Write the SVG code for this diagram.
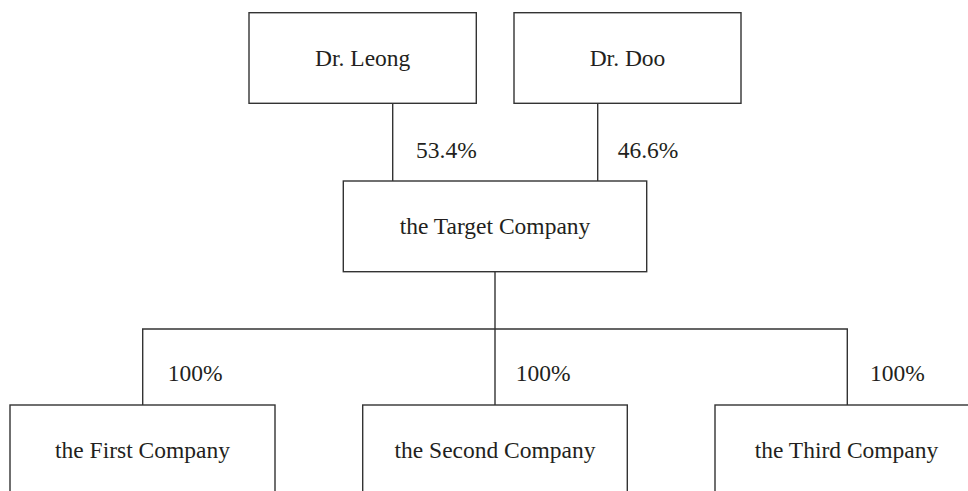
<svg xmlns="http://www.w3.org/2000/svg" width="968" height="491" viewBox="0 0 968 491">
<style>
.box{fill:#fff;stroke:#333;stroke-width:1.4}
.ln{fill:none;stroke:#333;stroke-width:1.4}
text{font-family:"Liberation Serif","Times New Roman",serif;font-size:23.5px;fill:#231f20}
.c{text-anchor:middle}
</style>
<rect width="968" height="491" fill="#fff"/>
<g id="connectors">
<line class="ln" x1="392.7" y1="103.3" x2="392.7" y2="181"/>
<line class="ln" x1="597.7" y1="103.3" x2="597.7" y2="181"/>
<line class="ln" x1="495" y1="271.7" x2="495" y2="329"/>
<polyline class="ln" points="142.7,405 142.7,329 847.3,329 847.3,405"/>
<line class="ln" x1="495" y1="329" x2="495" y2="405"/>
<text x="416" y="158">53.4%</text>
<text x="617.7" y="158">46.6%</text>
<text x="167.7" y="381">100%</text>
<text x="515.7" y="381">100%</text>
<text x="870" y="381">100%</text>
</g>
<g id="dr-leong">
<rect class="box" x="249" y="12.7" width="227.3" height="90.6"/>
<text class="c" x="362.7" y="65.5">Dr. Leong</text>
</g>
<g id="dr-doo">
<rect class="box" x="514" y="12.7" width="227" height="90.6"/>
<text class="c" x="627.5" y="65.5">Dr. Doo</text>
</g>
<g id="target">
<rect class="box" x="343.3" y="181" width="303.4" height="90.7"/>
<text class="c" x="495" y="234">the Target Company</text>
</g>
<g id="first">
<rect class="box" x="10" y="405" width="265" height="95"/>
<text class="c" x="142.5" y="458">the First Company</text>
</g>
<g id="second">
<rect class="box" x="362.7" y="405" width="264.6" height="95"/>
<text class="c" x="495" y="458">the Second Company</text>
</g>
<g id="third">
<rect class="box" x="715" y="405" width="265" height="95"/>
<text class="c" x="846.5" y="458">the Third Company</text>
</g>
</svg>
